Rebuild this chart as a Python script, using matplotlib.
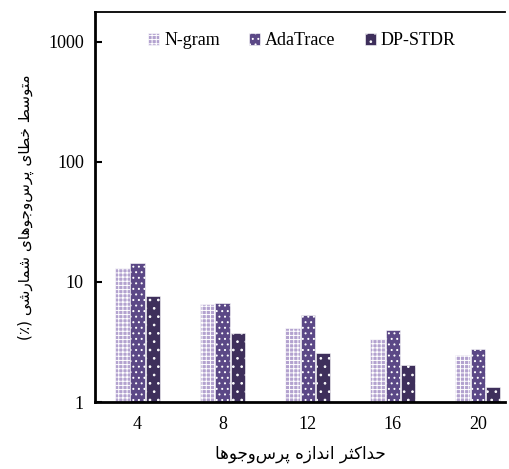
import matplotlib
matplotlib.use("Agg")
import matplotlib.pyplot as plt
import numpy as np

categories = ["4", "8", "12", "16", "20"]
ngram = [13.0, 6.5, 4.15, 3.35, 2.45]
adatrace = [14.3, 6.7, 5.3, 4.0, 2.77]
dpstdr = [7.65, 3.73, 2.54, 2.02, 1.34]
series_names = ["N-gram", "AdaTrace", "DP-STDR"]
yticks = [1, 10, 100, 1000]

ylabel_fa = "متوسط خطای پرس\u200cوجوهای شمارشی (٪)"
xlabel_fa = "حداکثر اندازه پرس\u200cوجوها"

# --- minimal Arabic/Persian shaping (matplotlib has no complex text layout) ---
FORMS = {
    "\u0627": ("\uFE8D", "\uFE8E", None, None),
    "\u062A": ("\uFE95", "\uFE96", "\uFE97", "\uFE98"),
    "\u062B": ("\uFE99", "\uFE9A", "\uFE9B", "\uFE9C"),
    "\u062C": ("\uFE9D", "\uFE9E", "\uFE9F", "\uFEA0"),
    "\u062D": ("\uFEA1", "\uFEA2", "\uFEA3", "\uFEA4"),
    "\u062E": ("\uFEA5", "\uFEA6", "\uFEA7", "\uFEA8"),
    "\u062F": ("\uFEA9", "\uFEAA", None, None),
    "\u0631": ("\uFEAD", "\uFEAE", None, None),
    "\u0632": ("\uFEAF", "\uFEB0", None, None),
    "\u0633": ("\uFEB1", "\uFEB2", "\uFEB3", "\uFEB4"),
    "\u0634": ("\uFEB5", "\uFEB6", "\uFEB7", "\uFEB8"),
    "\u0637": ("\uFEC1", "\uFEC2", "\uFEC3", "\uFEC4"),
    "\u0645": ("\uFEE1", "\uFEE2", "\uFEE3", "\uFEE4"),
    "\u0646": ("\uFEE5", "\uFEE6", "\uFEE7", "\uFEE8"),
    "\u0647": ("\uFEE9", "\uFEEA", "\uFEEB", "\uFEEC"),
    "\u0648": ("\uFEED", "\uFEEE", None, None),
    "\u067E": ("\uFB56", "\uFB57", "\uFB58", "\uFB59"),
    "\u06A9": ("\uFB8E", "\uFB8F", "\uFB90", "\uFB91"),
    "\u06CC": ("\uFBFC", "\uFBFD", "\uFBFE", "\uFBFF"),
}
MIRROR = {"(": ")", ")": "("}


def shape(text):
    out = []
    n = len(text)
    for i, ch in enumerate(text):
        if ch not in FORMS:
            out.append(ch)
            continue
        f = FORMS[ch]
        prev = text[i - 1] if i > 0 else ""
        nxt = text[i + 1] if i + 1 < n else ""
        join_prev = prev in FORMS and FORMS[prev][2] is not None
        join_next = nxt in FORMS and f[2] is not None
        if join_prev and join_next:
            out.append(f[3])
        elif join_prev:
            out.append(f[1])
        elif join_next:
            out.append(f[2])
        else:
            out.append(f[0])
    s = "".join(c for c in out if c != "\u200c")
    return "".join(MIRROR.get(c, c) for c in reversed(s))


plt.rcParams["font.family"] = ["Liberation Serif", "DejaVu Serif"]
plt.rcParams["hatch.linewidth"] = 0.7

fig = plt.figure(figsize=(5.10, 4.69), dpi=100)
ax = fig.add_axes([95 / 510, 67 / 469, 410 / 510, 390 / 469])

x = np.arange(len(categories))
w = 0.168
step = 0.178
colors = ["#b3a2cf", "#5b4886", "#3e2f5b"]
hatches = ["++++", "...", ".."]
for k, (vals, name) in enumerate(zip([ngram, adatrace, dpstdr], series_names)):
    ax.bar(x + (k - 1) * step, vals, width=w, color=colors[k], edgecolor="white",
           linewidth=0.4, hatch=hatches[k], label=name, bottom=0)

ax.set_yscale("log")
ax.set_ylim(1, 10 ** 3.25)
ax.set_xlim(-0.5, 4.32)
ax.set_yticks(yticks)
ax.set_yticklabels([str(t) for t in yticks], fontsize=13)
ax.yaxis.set_minor_locator(matplotlib.ticker.NullLocator())
ax.set_xticks(x)
ax.set_xticklabels(categories, fontsize=13)
ax.tick_params(axis="y", direction="in", length=5, width=1.5, pad=8)
ax.tick_params(axis="x", length=0, pad=10)

ax.spines["right"].set_visible(False)
ax.spines["left"].set_linewidth(2)
ax.spines["bottom"].set_linewidth(2)
ax.spines["top"].set_linewidth(1.3)

ax.set_ylabel(shape(ylabel_fa), fontsize=11, family=["DejaVu Sans"], labelpad=10)
ax.set_xlabel(shape(xlabel_fa), fontsize=12, family=["DejaVu Sans"], labelpad=9)

ax.legend(loc="upper center", bbox_to_anchor=(0.505, 0.99), ncol=3, frameon=False,
          fontsize=13, handlelength=0.6, handleheight=0.6, handletextpad=0.3,
          columnspacing=1.6)

fig.savefig("out.png", dpi=100)
